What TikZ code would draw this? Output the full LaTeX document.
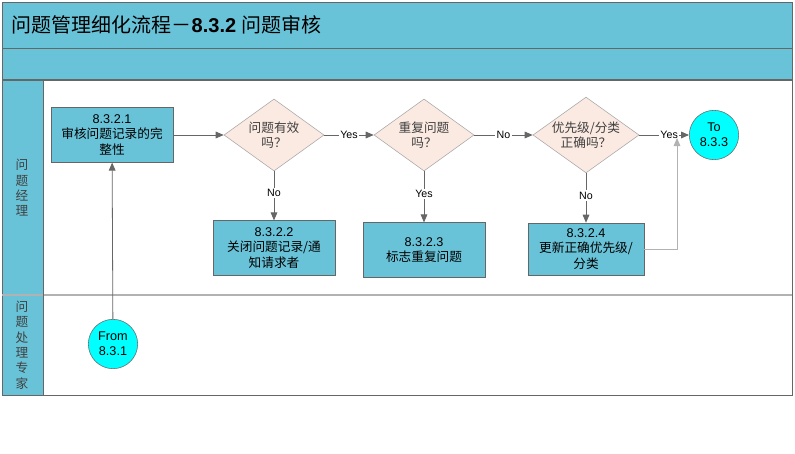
\documentclass[tikz,border=0pt]{standalone}
\usepackage{fontspec}
\setmainfont{Liberation Sans}
\newfontfamily\cjk{Noto Sans CJK SC}
\usetikzlibrary{shapes.geometric,arrows.meta}
\definecolor{teal}{HTML}{69C3D8}
\definecolor{pink}{HTML}{FBEAE2}
\definecolor{cyanc}{HTML}{00FFFF}
\tikzset{
 px/.style={x=0.75pt,y=-0.75pt},
 procbox/.style={draw=gray!80!black,fill=teal,minimum width=91.5pt,minimum height=41pt,align=center,font=\fontsize{9.5}{11.5}\selectfont,inner sep=1pt},
 decis/.style={diamond,draw=gray!70,fill=pink,minimum width=75pt,minimum height=54pt,aspect=1.4,align=center,font=\cjk\fontsize{9.5}{11.5}\selectfont,text=black!75,inner sep=0pt},
 term/.style={circle,draw=gray!80!black,fill=cyanc,minimum size=37pt,align=center,font=\fontsize{9.5}{11}\selectfont,inner sep=0pt},
 conn/.style={draw=gray!80!black,line width=0.6pt,-{Triangle[length=6pt,width=5pt]}},
 lbl/.style={fill=white,inner sep=1pt,font=\fontsize{8}{9}\selectfont}
}
\begin{document}
\begin{tikzpicture}[px]
\useasboundingbox (0,0) rectangle (795,453);
\fill[white] (0,0) rectangle (795,453);
% bands
\fill[teal] (2,2) rectangle (792,80);
\fill[teal] (2,80) rectangle (43,395);
\draw[gray!80!black,line width=0.6pt] (2,2) rectangle (792,395);
\draw[gray!80!black,line width=0.6pt] (2,48) -- (792,48);
\draw[gray!80!black,line width=0.8pt] (2,80) -- (792,80);
\draw[gray!60,line width=0.8pt] (2,295) -- (792,295);
\draw[gray!80!black,line width=0.6pt] (43,80) -- (43,395);
\node[anchor=west,font=\fontsize{15}{17}\selectfont] (title) at (7,25) {{\cjk 问题管理细化流程－}\textbf{8.3.2} {\cjk 问题审核}};
\node[align=center,font=\cjk\fontsize{9.5}{11.5}\selectfont,text=black!75] (lane1) at (22,188) {问\\题\\经\\理};
\node[align=center,font=\cjk\fontsize{9.5}{11.5}\selectfont,text=black!75] (lane2) at (22,345) {问\\题\\处\\理\\专\\家};
% nodes
\node[procbox] (b1) at (112,135) {8.3.2.1\\{\cjk 审核问题记录的完}\\{\cjk 整性}};
\node[decis] (d1) at (274,135) {问题有效\\吗？};
\node[decis] (d2) at (424,135) {重复问题\\吗？};
\node[decis] (d3) at (586,135) {优先级/分类\\正确吗？};
\node[term] (to) at (714,135) {To\\8.3.3};
\node[procbox] (b2) at (274,248) {8.3.2.2\\{\cjk 关闭问题记录/通}\\{\cjk 知请求者}};
\node[procbox] (b3) at (424,250) {8.3.2.3\\{\cjk 标志重复问题}};
\node[procbox,minimum width=87pt,minimum height=39pt] (b4) at (586,249) {8.3.2.4\\{\cjk 更新正确优先级/}\\{\cjk 分类}};
\node[term] (from) at (113,344) {From\\8.3.1};
\coordinate (j) at (677,138);
% connectors
\draw[conn] (b1) -- (d1);
\draw[conn] (d1) -- node[lbl]{Yes} (d2);
\draw[conn] (d2) -- node[lbl]{No} (d3);
\draw[conn] (d3) -- node[lbl,pos=0.6]{Yes} (to);
\draw[conn] (d1) -- node[lbl,pos=0.45]{No} (b2);
\draw[conn] (d2) -- node[lbl,pos=0.45]{Yes} (b3);
\draw[conn] (d3) -- node[lbl,pos=0.45]{No} (b4);
\draw[conn,draw=gray!60] (b4.east) -| (j);
\draw[conn] (from) -- (b1);
\end{tikzpicture}
\end{document}
